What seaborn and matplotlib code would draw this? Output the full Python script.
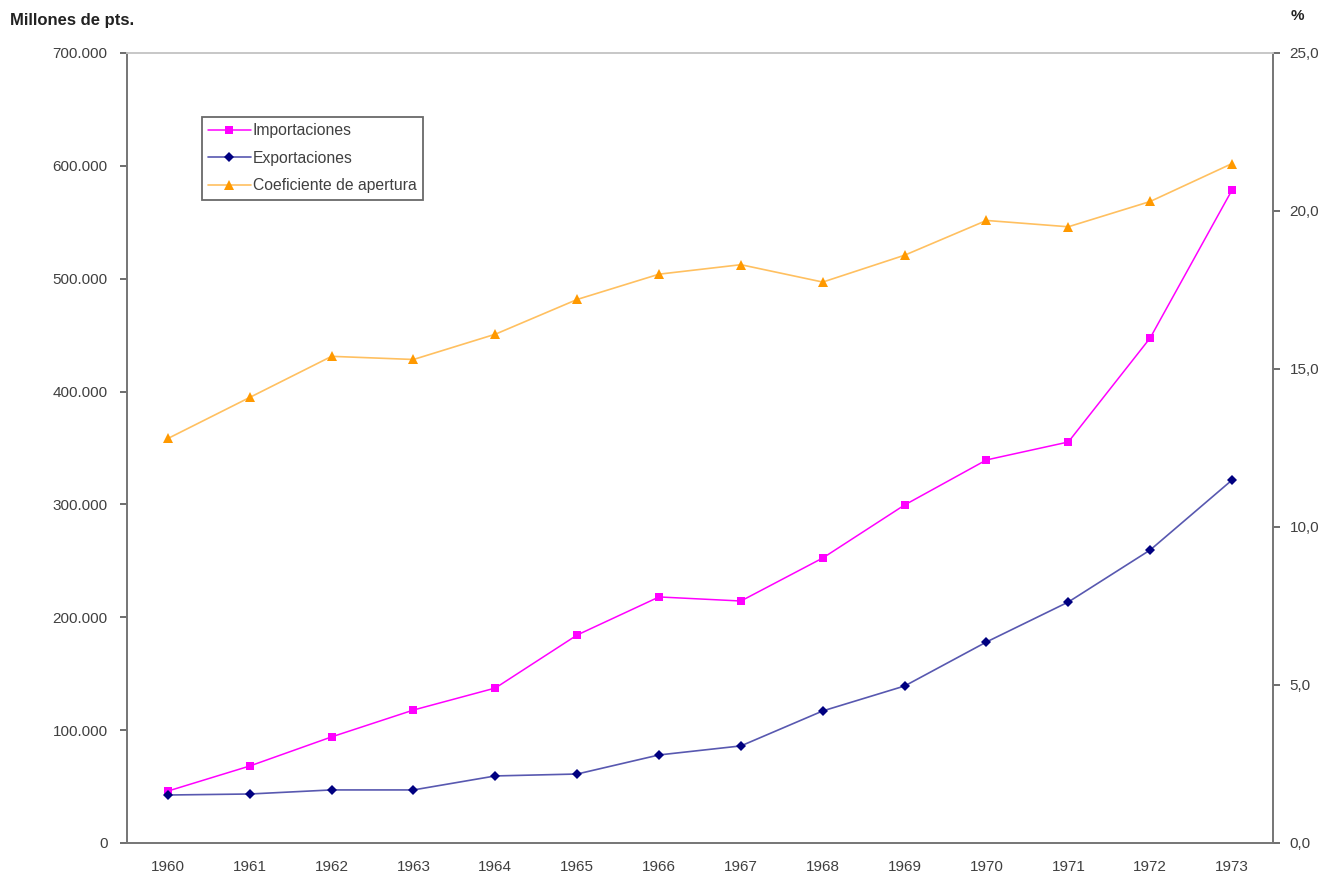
import matplotlib
matplotlib.use("Agg")
import matplotlib.pyplot as plt
import matplotlib.ticker as mticker
import numpy as np
import pandas as pd
import seaborn as sns

YEARS = ["1960", "1961", "1962", "1963", "1964", "1965", "1966",
         "1967", "1968", "1969", "1970", "1971", "1972", "1973"]
IMPORTACIONES = [46000, 68200, 94000, 117800, 137300, 184300, 218000,
                 214400, 252500, 299500, 339400, 355300, 447500, 578600]
EXPORTACIONES = [42500, 43400, 47000, 47000, 59400, 61100, 78000,
                 86000, 117000, 139100, 178100, 213500, 259600, 321600]
COEFICIENTE = [12.8, 14.1, 15.4, 15.3, 16.1, 17.2, 18.0,
               18.3, 17.75, 18.6, 19.7, 19.5, 20.3, 21.5]

FS = 11

sns.set_theme(style="white")
plt.rcParams["font.family"] = ["Liberation Sans", "DejaVu Sans"]

df = pd.DataFrame({
    "pos": np.arange(len(YEARS)),
    "imp": IMPORTACIONES,
    "exp": EXPORTACIONES,
    "coef": COEFICIENTE,
})

fig = plt.figure(figsize=(13.31, 8.77), dpi=100)
ax = fig.add_axes([0.0954, 0.0388, 0.8610, 0.9008])
ax2 = ax.twinx()

sns.lineplot(data=df, x="pos", y="imp", ax=ax, color="#FF00FF", lw=1.1,
             marker="s", markersize=5.5, markeredgewidth=0, label="Importaciones")
sns.lineplot(data=df, x="pos", y="exp", ax=ax, color="#5858B0", lw=1.2,
             marker="D", markersize=5, markerfacecolor="#000080",
             markeredgewidth=0, label="Exportaciones")
sns.lineplot(data=df, x="pos", y="coef", ax=ax2, color="#FFC060", lw=1.2,
             marker="^", markersize=6.5, markerfacecolor="#FF9900",
             markeredgewidth=0, label="Coeficiente de apertura")

ax.set_xlim(-0.5, len(YEARS) - 0.5)
ax.set_ylim(0, 700000)
ax2.set_ylim(0, 25)

ax.set_yticks(np.arange(0, 700001, 100000))
ax.yaxis.set_major_formatter(mticker.FuncFormatter(
    lambda v, p: "0" if v == 0 else f"{int(v):,}".replace(",", ".")))
ax2.set_yticks(np.arange(0, 25.1, 5))
ax2.yaxis.set_major_formatter(mticker.FuncFormatter(
    lambda v, p: f"{v:.1f}".replace(".", ",")))

ax.set_xticks(np.arange(-0.5, len(YEARS), 1))
ax.set_xticklabels([])
ax.set_xticks(df["pos"], minor=True)
ax.set_xticklabels(YEARS, minor=True)
ax.tick_params(axis="x", which="minor", length=0, pad=12)
ax.tick_params(axis="x", which="major", length=6, width=1.2, color="#555555",
               direction="inout")

for a in (ax, ax2):
    a.set_xlabel("")
    a.set_ylabel("")
    for s in a.spines.values():
        s.set_color("#777777")
        s.set_linewidth(1.3)
    a.spines["top"].set_color("#c8c8c8")
    a.tick_params(axis="y", length=5, width=1.2, color="#555555", pad=9,
                  labelsize=FS, labelcolor="#404040",
                  left=(a is ax), right=(a is ax2))
ax2.tick_params(axis="y", pad=7)
ax.tick_params(axis="x", which="both", labelsize=FS, labelcolor="#404040")
ax.grid(False)
ax2.grid(False)

h1, l1 = ax.get_legend_handles_labels()
h2, l2 = ax2.get_legend_handles_labels()
if ax2.get_legend():
    ax2.get_legend().remove()
ax.get_legend().remove()
leg = ax.legend(h1 + h2, l1 + l2, loc="upper left", bbox_to_anchor=(0.0654, 0.919),
                frameon=True, fancybox=False, fontsize=11.3, handlelength=2.7,
                borderpad=0.4, labelspacing=0.8, handletextpad=0.15,
                borderaxespad=0)
leg.get_frame().set_edgecolor("#444444")
leg.get_frame().set_linewidth(1.3)
for t in leg.get_texts():
    t.set_color("#404040")

fig.text(0.0075, 0.977, "Millones de pts.", fontsize=12, fontweight="bold",
         ha="left", va="center", color="#222222")
fig.text(0.9745, 0.982, "%", fontsize=FS, fontweight="bold",
         ha="center", va="center", color="#222222")

fig.savefig("out.png", dpi=100)
